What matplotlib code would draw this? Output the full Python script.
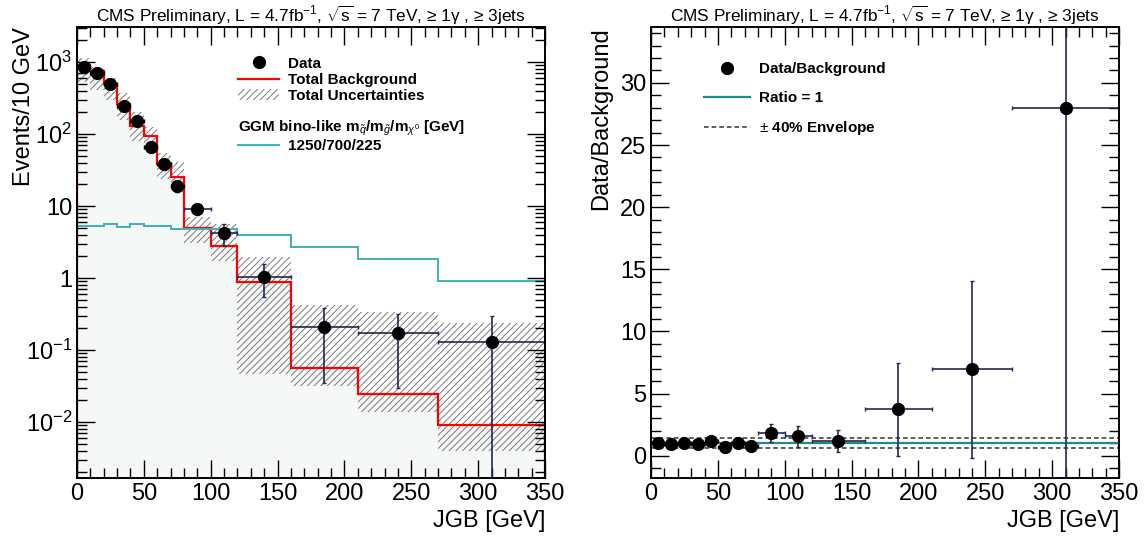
import numpy as np
import matplotlib.pyplot as plt
from matplotlib.lines import Line2D
from matplotlib.patches import Patch
from matplotlib.ticker import FixedLocator, FixedFormatter, MultipleLocator

plt.rcParams['font.family'] = ['Liberation Sans', 'DejaVu Sans']
plt.rcParams['mathtext.fontset'] = 'custom'
plt.rcParams['mathtext.rm'] = 'Liberation Sans'
plt.rcParams['mathtext.it'] = 'Liberation Sans:italic'
plt.rcParams['mathtext.bf'] = 'Liberation Sans:bold'
plt.rcParams['hatch.linewidth'] = 0.7

# JGB binning (variable width above 80 GeV)
edges = [0, 10, 20, 30, 40, 50, 60, 70, 80, 100, 120, 160, 210, 270, 350]
centers = [5, 15, 25, 35, 45, 55, 65, 75, 90, 110, 140, 185, 240, 310]

# observed events / 10 GeV
data = [850, 710, 490, 247, 152, 65, 38, 19.1, 9.0, 4.2, 1.04, 0.21, 0.17, 0.13]
data_up = [29, 27, 22, 16, 12, 8, 6, 3.5, 1.4, 1.4, 0.51, 0.17, 0.146, 0.17]
data_dn = [29, 27, 22, 16, 12, 8, 6, 3.5, 1.6, 1.4, 0.5, 0.175, 0.14, 0.1299]

# total background prediction and its uncertainty band
bkg = [900, 750, 500, 258, 129, 94, 38, 25, 4.9, 2.8, 0.88, 0.0557, 0.0247, 0.0092]
bkg_hi = [1125, 860, 594, 368, 204, 127, 54, 41, 7.0, 5.6, 1.98, 0.42, 0.334, 0.24]
bkg_lo = [533, 408, 297, 155, 81, 54, 24, 15.8, 3.1, 1.7, 0.047, 0.032, 0.0139, 0.0039]

# GGM signal point 1250/700/225
signal = [5.3, 5.3, 5.7, 5.06, 5.6, 5.2, 5.2, 4.8, 4.8, 4.8, 3.9, 2.67, 1.85, 0.92]

# data / background
ratio = [0.98, 0.97, 1.05, 0.96, 1.18, 0.68, 1.03, 0.78, 1.84, 1.57, 1.21, 3.72, 6.97, 28.0]
ratio_up = [0.06, 0.07, 0.08, 0.1, 0.13, 0.12, 0.2, 0.22, 0.73, 0.79, 0.88, 3.76, 7.1, 40.0]
ratio_dn = [0.06, 0.07, 0.08, 0.1, 0.13, 0.12, 0.2, 0.22, 0.74, 0.9, 0.89, 3.77, 7.13, 35.0]

title = r"CMS Preliminary, L = 4.7fb$^{-1}$, $\sqrt{\rm s}$ = 7 TeV, ≥ 1γ , ≥ 3jets"

edges = np.array(edges)
xerr = np.diff(edges) / 2.0
ext = lambda v: np.append(v, v[-1])
navy = '#262650'
teal = '#3cb4b4'
hatch_col = '#7a7a7a'
n_fine = 8  # first eight 10 GeV bins use black error bars

fig = plt.figure(figsize=(11.46, 5.36), dpi=100)
ax1 = fig.add_axes([0.0672, 0.1082, 0.4084, 0.8414])
ax2 = fig.add_axes([0.5681, 0.1082, 0.4084, 0.8414])

# ---- left: distribution ----
ax1.set_yscale('log')
ax1.fill_between(edges, 1e-4, ext(bkg), step='post', color='#f6f8f8', lw=0)
ax1.fill_between(edges, ext(bkg_lo), ext(bkg_hi), step='post', facecolor='none',
                 edgecolor=hatch_col, hatch='/////', lw=0)
ax1.stairs(bkg, edges, color='red', lw=1.6)
ax1.stairs(signal, edges, color=teal, lw=1.4)
ax1.errorbar(centers[:n_fine], data[:n_fine], xerr=xerr[:n_fine],
             yerr=[data_dn[:n_fine], data_up[:n_fine]], fmt='o', color='black',
             ms=8.5, elinewidth=1.2, capsize=1.5)
ax1.errorbar(centers[n_fine:], data[n_fine:], xerr=xerr[n_fine:],
             yerr=[data_dn[n_fine:], data_up[n_fine:]], fmt='o', mfc='black', mec='black',
             ecolor=navy, ms=8.5, elinewidth=1.2, capsize=1.5)
ax1.set_xlim(0, 350)
ax1.set_ylim(1.67e-3, 3060)
decades = [1e-2, 1e-1, 1, 10, 1e2, 1e3]
ax1.yaxis.set_major_locator(FixedLocator(decades))
ax1.yaxis.set_major_formatter(FixedFormatter(['$10^{-2}$', '$10^{-1}$', '1', '10',
                                              '$10^{2}$', '$10^{3}$']))
minors = [m * d for d in [1e-3, 1e-2, 1e-1, 1, 10, 100, 1000] for m in range(2, 10)]
ax1.yaxis.set_minor_locator(FixedLocator(minors))
ax1.set_ylabel('Events/10 GeV', fontsize=17, loc='top')
ax1.yaxis.set_label_coords(-0.09, 1.0)

h1 = [Line2D([], [], marker='o', color='black', ls='none', ms=8.5),
      Line2D([], [], color='red', lw=1.6),
      Patch(facecolor='none', edgecolor=hatch_col, hatch='/////', lw=0)]
leg1 = ax1.legend(h1, ['Data', 'Total Background', 'Total Uncertainties'],
                  loc='upper left', bbox_to_anchor=(0.331, 0.948), frameon=False,
                  prop={'weight': 'bold', 'size': 11}, handlelength=2.7,
                  handletextpad=0.6, labelspacing=0.15, borderaxespad=0)
ax1.add_artist(leg1)
ax1.legend([Line2D([], [], color=teal, lw=1.4)], ['1250/700/225'],
           title=r'GGM bino-like m$_{\tilde{q}}$/m$_{\tilde{g}}$/m$_{\chi^{0}}$ [GeV]',
           title_fontproperties={'weight': 'bold', 'size': 11}, alignment='left',
           loc='upper left', bbox_to_anchor=(0.33, 0.811), frameon=False,
           prop={'weight': 'bold', 'size': 11}, handlelength=2.7,
           handletextpad=0.6, labelspacing=0.1, borderaxespad=0)

# ---- right: ratio ----
ax2.axhline(1.4, color='#333333', lw=1.1, ls=(0, (3, 2)))
ax2.axhline(0.6, color='#333333', lw=1.1, ls=(0, (3, 2)))
ax2.axhline(1.0, color='#1f8c8c', lw=1.6)
ax2.errorbar(centers[:n_fine], ratio[:n_fine], xerr=xerr[:n_fine],
             yerr=[ratio_dn[:n_fine], ratio_up[:n_fine]], fmt='o', color='black',
             ms=8.5, elinewidth=1.2, capsize=1.5)
ax2.errorbar(centers[n_fine:], ratio[n_fine:], xerr=xerr[n_fine:],
             yerr=[ratio_dn[n_fine:], ratio_up[n_fine:]], fmt='o', mfc='black', mec='black',
             ecolor=navy, ms=8.5, elinewidth=1.2, capsize=1.5)
ax2.set_xlim(0, 350)
ax2.set_ylim(-1.8, 34.5)
ax2.yaxis.set_major_locator(MultipleLocator(5))
ax2.yaxis.set_minor_locator(MultipleLocator(1))
ax2.set_ylabel('Data/Background', fontsize=17, loc='top')
ax2.yaxis.set_label_coords(-0.083, 1.0)

h2 = [Line2D([], [], marker='o', color='black', ls='none', ms=8.5),
      Line2D([], [], color='#1f8c8c', lw=1.6),
      Line2D([], [], color='#333333', lw=1.1, ls=(0, (3, 2)))]
ax2.legend(h2, ['Data/Background', 'Ratio = 1', r'$\pm$ 40% Envelope'],
           loc='upper left', bbox_to_anchor=(0.1, 0.935), frameon=False,
           prop={'weight': 'bold', 'size': 11}, handlelength=3.0,
           handletextpad=0.6, labelspacing=0.95, borderaxespad=0)

for ax in (ax1, ax2):
    ax.set_title(title, fontsize=12.4, pad=3)
    ax.set_xlabel('JGB [GeV]', fontsize=17, loc='right')
    ax.xaxis.set_major_locator(MultipleLocator(50))
    ax.xaxis.set_minor_locator(MultipleLocator(10))
    ax.tick_params(which='both', direction='in', top=True, right=True, labelsize=17)
    ax.tick_params(which='major', length=13, width=1.0)
    ax.tick_params(which='minor', length=7, width=1.0)
    for s in ax.spines.values():
        s.set_linewidth(1.4)

fig.savefig('out.png', dpi=100)
